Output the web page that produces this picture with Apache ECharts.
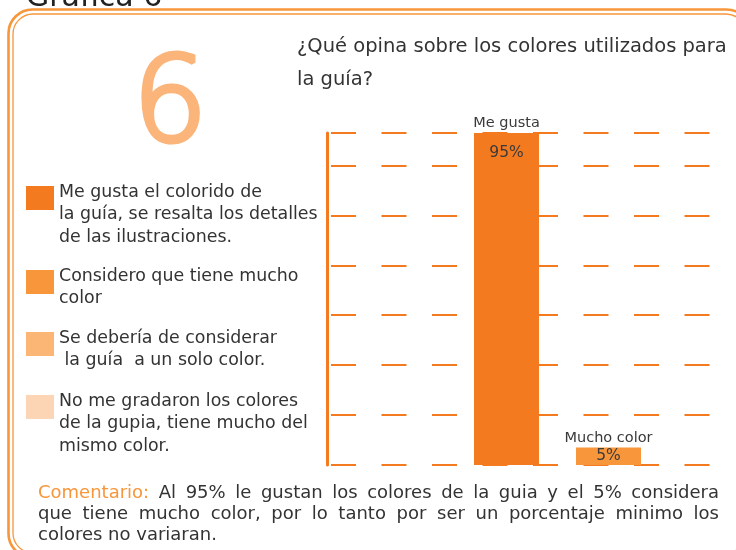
<!DOCTYPE html>
<html>
<head>
<meta charset="utf-8">
<script src="https://cdn.jsdelivr.net/npm/echarts@6/dist/echarts.min.js"></script>
<style>
  html, body { margin: 0; padding: 0; background: #ffffff; }
  #chart { width: 736px; height: 550px; }
</style>
</head>
<body>
<div id="chart"></div>
<script>
// Answers and their share of respondents
const categories = ['Me gusta', 'Mucho color'];
const percentages = [95, 5];

// Legend entries (one per possible answer)
const legendLabels = [
  'Me gusta el colorido de\nla guía, se resalta los detalles\nde las ilustraciones.',
  'Considero que tiene mucho\ncolor',
  'Se debería de considerar\n la guía  a un solo color.',
  'No me gradaron los colores\nde la gupia, tiene mucho del\nmismo color.'
];

const titleText = 'Gráfica 6';
const bigNumber = '6';
const questionText = '¿Qué opina sobre los colores utilizados para\nla guía?';
const commentLead = 'Comentario:';
const commentLines = [
  'Al 95% le gustan los colores de la guia y el 5% considera',
  'que tiene mucho color, por lo tanto por ser un porcentaje minimo los',
  'colores no variaran.'
];

// Styling
const palette = ['#F47A20', '#F7963A', '#FBB574', '#FCD5B5'];
const frameColor = '#F7963A';
const textColor = '#333333';
const FONT = '"DejaVu Sans", "Noto Sans", sans-serif';
const legendTops = [186, 270, 332, 395];
const valueLabelPlacement = [
  { position: 'insideTop', distance: 12 },
  { position: 'inside', distance: 0 }
];

const chart = echarts.init(document.getElementById('chart'), null, { renderer: 'canvas' });

// Legend: colour swatch plus wrapped description
const legendGraphics = [];
legendLabels.forEach((label, i) => {
  legendGraphics.push({
    type: 'rect',
    shape: { x: 26, y: legendTops[i], width: 28, height: 24 },
    style: { fill: palette[i] },
    silent: true
  });
  legendGraphics.push({
    type: 'text',
    x: 59,
    y: legendTops[i] - 5,
    style: {
      text: label,
      fill: textColor,
      font: '17.4px ' + FONT,
      lineHeight: 22.5,
      verticalAlign: 'top'
    },
    silent: true
  });
});

// Comment paragraph, justified between two margins (last line left aligned)
const commentFont = '18px ' + FONT;
const commentLeft = 38, commentRight = 719, commentTop = 493, commentLineHeight = 21;
const measureCtx = document.createElement('canvas').getContext('2d');
measureCtx.font = '18px "DejaVu Sans"';
const textWidth = s => measureCtx.measureText(s).width;
const commentGraphics = [];
commentLines.forEach((line, li) => {
  const words = line.split(' ').map(w => ({ t: w, c: textColor }));
  if (li === 0) words.unshift({ t: commentLead, c: '#F7963A' });
  const widths = words.map(w => textWidth(w.t));
  const total = widths.reduce((a, b) => a + b, 0);
  const justify = li < commentLines.length - 1;
  const gap = justify ? (commentRight - commentLeft - total) / (words.length - 1) : textWidth(' ');
  let x = commentLeft;
  words.forEach((w, wi) => {
    commentGraphics.push({
      type: 'text',
      x: x,
      y: commentTop + li * commentLineHeight,
      style: { text: w.t, fill: w.c, font: commentFont, verticalAlign: 'middle' },
      silent: true
    });
    x += widths[wi] + gap;
  });
});

const option = {
  animation: false,
  backgroundColor: '#ffffff',
  grid: [
    { left: 327, right: 26, top: 133, bottom: 85 },
    { left: 455.5, right: 76.5, top: 133, bottom: 85 }
  ],
  xAxis: [
    { gridIndex: 0, type: 'category', data: [''], show: false },
    { gridIndex: 1, type: 'category', data: categories, show: false }
  ],
  yAxis: [
    {
      gridIndex: 0, type: 'value', min: 0, max: 95, interval: 100 / 7,
      axisLine: { show: true, lineStyle: { color: '#F47A20', width: 3 } },
      axisTick: { show: false },
      axisLabel: { show: false },
      splitLine: {
        show: true,
        lineStyle: { color: '#F47A20', width: 2, type: [25, 25.5], dashOffset: 46.5 }
      }
    },
    {
      gridIndex: 1, type: 'value', min: 0, max: 95, show: false,
      splitLine: { show: false }
    }
  ],
  series: [
    {
      name: 'Respuestas',
      type: 'bar',
      xAxisIndex: 1,
      yAxisIndex: 1,
      barWidth: 65,
      data: percentages.map((v, i) => ({ value: v, itemStyle: { color: palette[i] } })),
      label: {
        show: true,
        position: 'top',
        distance: 2,
        formatter: '{b}',
        color: '#3a3a3a',
        fontFamily: FONT,
        fontSize: 14.5
      },
      z: 3
    },
    {
      name: 'Porcentaje',
      type: 'bar',
      xAxisIndex: 1,
      yAxisIndex: 1,
      barWidth: 65,
      barGap: '-100%',
      itemStyle: { color: 'rgba(0,0,0,0)' },
      data: percentages.map((v, i) => ({
        value: v,
        label: valueLabelPlacement[i]
      })),
      label: {
        show: true,
        formatter: '{c}%',
        color: '#3a3a3a',
        fontFamily: FONT,
        fontSize: 15.5
      },
      z: 4
    }
  ],
  graphic: [
    // double orange frame
    {
      type: 'rect',
      shape: { x: 8.5, y: 9.5, width: 742, height: 548, r: 24 },
      style: { fill: 'none', stroke: frameColor, lineWidth: 2.6 },
      silent: true, z: 1
    },
    {
      type: 'rect',
      shape: { x: 13, y: 14, width: 733, height: 539, r: 20 },
      style: { fill: 'none', stroke: frameColor, lineWidth: 1.3 },
      silent: true, z: 1
    },
    {
      type: 'text',
      x: 26, y: 13,
      style: { text: titleText, fill: '#222222', font: '30px ' + FONT, verticalAlign: 'bottom' },
      silent: true
    },
    {
      type: 'text',
      x: 170, y: 109,
      style: {
        text: bigNumber, fill: '#FBB57A', stroke: '#FBB57A', lineWidth: 5, lineJoin: 'round',
        font: '200 118px ' + FONT, align: 'center', verticalAlign: 'middle'
      },
      silent: true
    },
    {
      type: 'text',
      x: 297, y: 30,
      style: { text: questionText, fill: textColor, font: '19.5px ' + FONT, lineHeight: 33, verticalAlign: 'top' },
      silent: true
    }
  ].concat(legendGraphics, commentGraphics)
};

chart.setOption(option);
</script>
</body>
</html>
